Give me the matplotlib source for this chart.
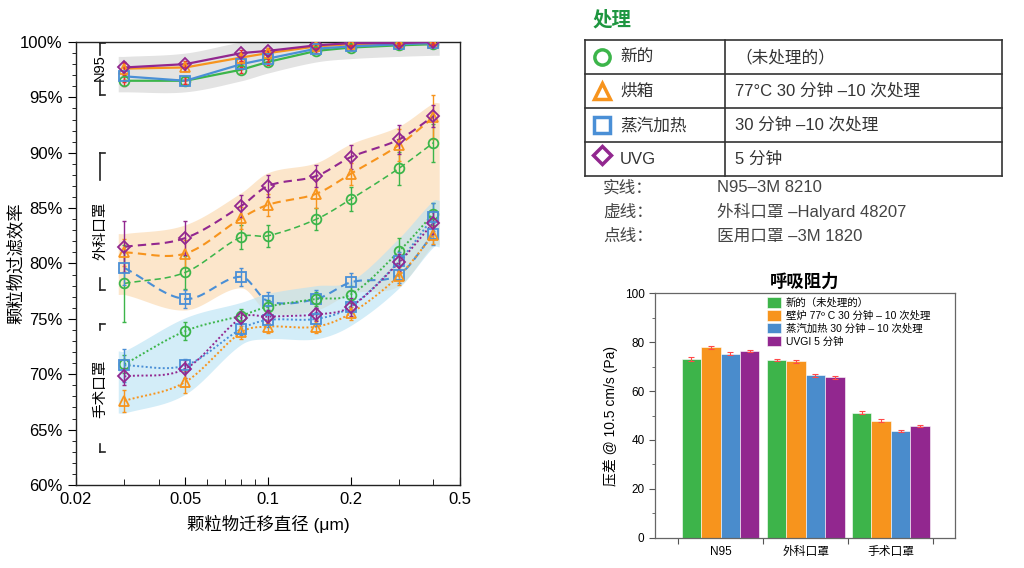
import numpy as np
import matplotlib
matplotlib.use("Agg")
import matplotlib.pyplot as plt
from matplotlib.lines import Line2D
from matplotlib.ticker import FixedLocator, NullFormatter, MultipleLocator

plt.rcParams['font.family'] = ['Liberation Sans', 'Noto Sans CJK SC', 'DejaVu Sans']

# ---------------- data ----------------
diam = [0.03, 0.05, 0.08, 0.1, 0.15, 0.2, 0.3, 0.4]
treatments = ['新的', '烘箱', '蒸汽加热', 'UVG']
treat_desc = ['（未处理的）', '77°C 30 分钟 –10 次处理', '30 分钟 –10 次处理', '5 分钟']

# N95 (solid)
n95_new   = [96.5, 96.5, 97.5, 98.2, 99.2, 99.5, 99.7, 99.8]
n95_oven  = [97.6, 97.7, 98.6, 99.0, 99.6, 99.8, 99.9, 99.9]
n95_steam = [96.9, 96.5, 98.0, 98.5, 99.4, 99.6, 99.8, 99.9]
n95_uvg   = [97.7, 98.0, 99.0, 99.2, 99.7, 99.9, 99.9, 100.0]
n95_err   = [0.5, 0.3, 0.3, 0.3, 0.2, 0.2, 0.2, 0.2]

# surgical mask – Halyard 48207 (dashed)
sur_new   = [78.2, 79.2, 82.4, 82.5, 84.0, 85.8, 88.6, 90.9]
sur_oven  = [81.0, 80.9, 84.1, 85.3, 86.3, 88.1, 90.7, 93.2]
sur_steam = [79.6, 76.8, 78.8, 76.6, 76.8, 78.3, 79.0, 82.7]
sur_uvg   = [81.5, 82.3, 85.2, 87.0, 87.9, 89.6, 91.2, 93.3]
sur_new_err   = [3.5, 1.5, 1.1, 1.0, 1.0, 1.1, 1.5, 1.7]
sur_oven_err  = [1.2, 1.2, 1.0, 1.0, 1.3, 1.0, 1.4, 2.0]
sur_steam_err = [1.5, 0.8, 0.8, 0.8, 0.8, 0.8, 0.8, 1.0]
sur_uvg_err   = [2.3, 1.5, 1.0, 1.0, 1.0, 1.1, 1.3, 1.0]

# medical mask – 3M 1820 (dotted)
med_new   = [70.9, 73.9, 75.3, 76.1, 76.8, 77.2, 81.1, 84.5]
med_oven  = [67.6, 69.3, 73.8, 74.3, 74.3, 75.5, 78.9, 82.6]
med_steam = [70.8, 70.8, 74.1, 74.9, 75.0, 76.1, 80.2, 84.2]
med_uvg   = [69.8, 70.5, 75.1, 75.2, 75.4, 76.1, 80.1, 83.7]
med_new_err   = [0.8, 0.8, 0.6, 0.6, 0.6, 0.8, 1.2, 1.0]
med_oven_err  = [1.0, 1.0, 0.6, 0.6, 0.6, 0.6, 0.8, 0.8]
med_steam_err = [1.5, 0.6, 0.6, 0.6, 0.6, 0.6, 0.8, 1.3]
med_uvg_err   = [0.8, 0.8, 0.6, 0.6, 0.6, 0.8, 0.8, 1.0]

x_ticks = [0.02, 0.05, 0.1, 0.2, 0.5]
x_tick_labels = ['0.02', '0.05', '0.1', '0.2', '0.5']
y_ticks = [60, 65, 70, 75, 80, 85, 90, 95, 100]

line_notes = [('实线：', 'N95–3M 8210'), ('虚线：', '外科口罩 –Halyard 48207'), ('点线：', '医用口罩 –3M 1820')]

# breathing resistance
bar_groups = ['N95', '外科口罩', '手术口罩']
bar_labels = ['新的（未处理的）', '壁炉 77º C 30 分钟 – 10 次处理', '蒸汽加热 30 分钟 – 10 次处理', 'UVGI 5 分钟']
bar_new   = [73.0, 72.7, 51.1]
bar_oven  = [78.0, 72.2, 47.9]
bar_steam = [75.3, 66.5, 43.8]
bar_uvg   = [76.3, 65.7, 45.7]
bar_new_err   = [0.8, 0.4, 0.6]
bar_oven_err  = [0.6, 0.7, 0.5]
bar_steam_err = [0.7, 0.6, 0.4]
bar_uvg_err   = [0.5, 0.6, 0.3]

# ---------------- styles ----------------
C_GREEN = '#3cb54a'
C_ORANGE = '#f7941d'
C_BLUE = '#4a8fd6'
C_PURPLE = '#92278f'
colors = [C_GREEN, C_ORANGE, C_BLUE, C_PURPLE]
markers = ['o', '^', 's', 'D']
msizes = [7, 7.5, 7, 6]


def smooth(x, y, n=40):
    t = np.log10(np.asarray(x, float))
    y = np.asarray(y, float)
    m = np.zeros_like(y)
    m[1:-1] = (y[2:] - y[:-2]) / (t[2:] - t[:-2])
    m[0] = (y[1] - y[0]) / (t[1] - t[0])
    m[-1] = (y[-1] - y[-2]) / (t[-1] - t[-2])
    T, Y = [], []
    for i in range(len(t) - 1):
        h = t[i + 1] - t[i]
        s = np.linspace(0, 1, n, endpoint=(i == len(t) - 2))
        h00 = 2 * s**3 - 3 * s**2 + 1
        h10 = s**3 - 2 * s**2 + s
        h01 = -2 * s**3 + 3 * s**2
        h11 = s**3 - s**2
        T.append(t[i] + s * h)
        Y.append(h00 * y[i] + h10 * h * m[i] + h01 * y[i + 1] + h11 * h * m[i + 1])
    return 10 ** np.concatenate(T), np.concatenate(Y)


W, H = 1024, 568
fig = plt.figure(figsize=(W / 100, H / 100), dpi=100)


def fx(px):
    return px / W


def fy(py):
    return 1 - py / H


ax = fig.add_axes([fx(76), fy(485), fx(460) - fx(76), fy(42) - fy(485)])
ax.set_xscale('log')
ax.set_xlim(0.02, 0.5)
ax.set_ylim(60, 100)

# bands
groups = [
    ([n95_new, n95_oven, n95_steam, n95_uvg], '#e3e3e3', 1.0, 1.0, 1.0),
    ([sur_new, sur_oven, sur_steam, sur_uvg], '#fbd9b0', 0.65, 1.0, 1.2),
    ([med_new, med_oven, med_steam, med_uvg], '#b6e1f4', 0.6, 1.1, 1.2),
]
for series, col, alpha, pad_lo, pad_hi in groups:
    arr = np.array(series)
    lo = arr.min(axis=0) - pad_lo
    hi = arr.max(axis=0) + pad_hi
    xb = [0.0285] + diam + [0.42]
    lo_e = np.concatenate([[lo[0]], lo, [lo[-1]]])
    hi_e = np.concatenate([[hi[0]], hi, [hi[-1]]])
    xs, ls = smooth(xb, lo_e)
    _, hs = smooth(xb, hi_e)
    ax.fill_between(xs, ls, hs, color=col, alpha=alpha, lw=0, zorder=1)

# lines
sets = [
    ([n95_new, n95_oven, n95_steam, n95_uvg], [n95_err] * 4, '-', False, 1.6),
    ([sur_new, sur_oven, sur_steam, sur_uvg],
     [sur_new_err, sur_oven_err, sur_steam_err, sur_uvg_err], (0, (4, 2.5)), True, 1.5),
    ([med_new, med_oven, med_steam, med_uvg],
     [med_new_err, med_oven_err, med_steam_err, med_uvg_err], (0, (1, 1.2)), True, 1.4),
]
for si, (series, errs, ls, sm, lw) in enumerate(sets):
    for k in range(4):
        c = colors[k]
        y = series[k]
        lwk = lw * (0.75 if (si == 1 and k == 0) else 1.0)
        if sm:
            xs, ys = smooth(diam, y)
        else:
            xs, ys = diam, y
        ax.plot(xs, ys, color=c, ls=ls, lw=lwk, zorder=3)
        ecol = '#e8312f' if si == 0 else c
        ax.errorbar(diam, y, yerr=errs[k], fmt='none', ecolor=ecol, elinewidth=1.0,
                    capsize=1.5, capthick=1.0, zorder=4)
        ax.plot(diam, y, ls='none', marker=markers[k], ms=msizes[k], mfc='none',
                mec=c, mew=1.3, zorder=5)

ax.set_xticks(x_ticks)
ax.set_xticklabels(x_tick_labels)
ax.xaxis.set_minor_locator(FixedLocator([0.03, 0.04, 0.06, 0.07, 0.08, 0.09, 0.3, 0.4]))
ax.xaxis.set_minor_formatter(NullFormatter())
ax.set_yticks(y_ticks)
ax.set_yticklabels([f'{v}%' for v in y_ticks])
ax.yaxis.set_minor_locator(MultipleLocator(1))
ax.tick_params(axis='x', which='both', direction='in', labelsize=12, pad=5)
ax.tick_params(axis='x', which='major', length=6)
ax.tick_params(axis='x', which='minor', length=4)
ax.tick_params(axis='y', which='both', direction='out', labelsize=12)
ax.tick_params(axis='y', which='major', length=6)
ax.tick_params(axis='y', which='minor', length=3)
for sp in ax.spines.values():
    sp.set_color('#222222')
    sp.set_linewidth(1.0)
ax.set_xlabel('颗粒物迁移直径 (μm)', fontsize=12.5, labelpad=6)
ax.set_ylabel('颗粒物过滤效率', fontsize=12.5)
ax.yaxis.set_label_coords(-0.135, 0.5)

# brackets
tr = ax.get_yaxis_transform()
bx, tk = 0.0625, 0.014
def seg(y0, y1, end_tick):
    ax.plot([bx, bx], [y0, y1], color='#222222', lw=1.2, transform=tr, clip_on=False, zorder=6)
    ax.plot([bx, bx + tk], [end_tick, end_tick], color='#222222', lw=1.2, transform=tr,
            clip_on=False, zorder=6)

seg(99.9, 98.8, 99.9); seg(96.6, 95.2, 95.2)
ax.text(bx, 97.7, 'N95', rotation=90, ha='center', va='center', fontsize=10.5, transform=tr)
seg(90.0, 87.5, 90.0); seg(78.7, 77.6, 77.6)
ax.text(bx, 83.0, '外科口罩', rotation=90, ha='center', va='center', fontsize=10.5, transform=tr)
seg(74.5, 74.0, 74.5); seg(63.7, 63.0, 63.0)
ax.text(bx, 68.7, '手术口罩', rotation=90, ha='center', va='center', fontsize=10.5, transform=tr)

# ---------------- treatment table ----------------
fig.text(fx(593), fy(20), '处理', color='#1e9640', fontsize=14, fontweight='bold', va='center', ha='left')
tl, tr_, tmid = 585, 1002, 725
rows = [40, 74, 108, 142, 176]
for r in rows:
    fig.add_artist(Line2D([fx(tl), fx(tr_)], [fy(r), fy(r)], color='#333333', lw=1.2))
for xv in (tl, tmid, tr_):
    fig.add_artist(Line2D([fx(xv), fx(xv)], [fy(rows[0]), fy(rows[-1])], color='#333333', lw=1.2))
tmarks = ['o', '^', 's', 'D']
tms = [11, 11, 11, 9]
for i in range(4):
    yc = (rows[i] + rows[i + 1]) / 2
    yoff = -4 if i == 3 else 0
    fig.add_artist(Line2D([fx(602)], [fy(yc + yoff)], marker=tmarks[i], ms=tms[i], mfc='none',
                          mec=colors[i], mew=2.5, ls='none'))
    fig.text(fx(620), fy(yc), treatments[i], fontsize=12, va='center', ha='left', color='#333333')
    fig.text(fx(735), fy(yc), treat_desc[i], fontsize=12, va='center', ha='left', color='#333333')
for i, (a, b) in enumerate(line_notes):
    yc = 188 + 24 * i
    fig.text(fx(603), fy(yc), a, fontsize=12, va='center', ha='left', color='#444444')
    fig.text(fx(717), fy(yc), b, fontsize=12, va='center', ha='left', color='#444444')

# ---------------- bar chart ----------------
ax2 = fig.add_axes([fx(655), fy(537.7), fx(955) - fx(655), fy(293.3) - fy(537.7)])
xg = np.arange(1, len(bar_groups) + 1)
bw = 0.228
bvals = [bar_new, bar_oven, bar_steam, bar_uvg]
berrs = [bar_new_err, bar_oven_err, bar_steam_err, bar_uvg_err]
bcols = ['#3db44a', '#f7941d', '#4a8ccc', '#92278f']
for k in range(4):
    pos = xg + (k - 1.5) * bw
    ax2.bar(pos, bvals[k], width=bw, color=bcols[k], edgecolor='white', linewidth=0.4,
            label=bar_labels[k], zorder=2)
    ax2.errorbar(pos, bvals[k], yerr=berrs[k], fmt='none', ecolor='#ff4a4a', elinewidth=0.8,
                 capsize=2.5, capthick=0.8, zorder=3)
ax2.set_xlim(0.231, 3.753)
ax2.set_ylim(0, 100)
ax2.set_xticks([0.5, 1.5, 2.5, 3.5])
ax2.set_xticklabels([])
ax2.set_xticks(xg, minor=True)
ax2.set_xticklabels(bar_groups, minor=True)
ax2.tick_params(axis='x', which='major', length=4, direction='out', color='#555555')
ax2.tick_params(axis='x', which='minor', length=0, labelsize=8.5, pad=6)
ax2.yaxis.set_major_locator(MultipleLocator(20))
ax2.yaxis.set_minor_locator(MultipleLocator(10))
ax2.tick_params(axis='y', which='major', length=4, labelsize=8.5, color='#555555')
ax2.tick_params(axis='y', which='minor', length=2, color='#555555')
for sp in ax2.spines.values():
    sp.set_color('#666666')
    sp.set_linewidth(0.9)
ax2.set_ylabel('压差 @ 10.5 cm/s (Pa)', fontsize=10, labelpad=5)
ax2.set_title('呼吸阻力', fontsize=12.5, fontweight='bold', pad=5)
ax2.legend(loc='upper left', bbox_to_anchor=(0.35, 1.015), frameon=False, fontsize=7.5,
           handlelength=1.3, handleheight=1.2, handletextpad=0.5, labelspacing=0.2,
           borderpad=0.2)

fig.savefig('out.png', dpi=100)
